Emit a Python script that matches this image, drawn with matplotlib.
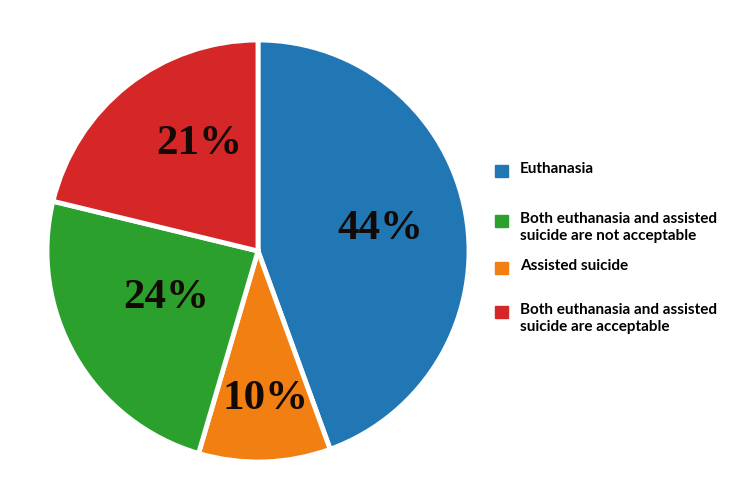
import matplotlib
matplotlib.use("Agg")
import matplotlib.pyplot as plt
import numpy as np
from matplotlib.patches import Rectangle

categories = ["Euthanasia", "Assisted suicide",
              "Both euthanasia and assisted\nsuicide are not acceptable",
              "Both euthanasia and assisted\nsuicide are acceptable"]
shares = [44, 10, 24, 21]
colors = ["#2077b4", "#f17f12", "#2ca02c", "#d62728"]

# legend order as in the picture
legend_order = [0, 2, 1, 3]

W, H = 750, 479
fig = plt.figure(figsize=(W / 100, H / 100), dpi=100)

# pie area: centre (258, 251), radius 211 px
cx, cy, r = 258, 251, 211
ax = fig.add_axes([(cx - r) / W, (H - cy - r) / H, 2 * r / W, 2 * r / H])
wedges, _ = ax.pie(shares, colors=colors, startangle=90, counterclock=False,
                   radius=1.0,
                   wedgeprops=dict(edgecolor="white", linewidth=3.5))
ax.set_xlim(-1.0, 1.0)
ax.set_ylim(-1.0, 1.0)
ax.set_aspect("equal")
ax.axis("off")

# percent labels, nudged like the original
lab_r = [0.59, 0.70, 0.49, 0.58]
lab_dt = [0.0, 0.9, -3.0, -9.5]
for w, v, lr, dt in zip(wedges, shares, lab_r, lab_dt):
    th = np.deg2rad((w.theta1 + w.theta2) / 2 + dt)
    ax.text(lr * np.cos(th), lr * np.sin(th), f"{v}%", ha="center", va="center",
            fontsize=31, fontweight="bold", family="Liberation Serif", color="#140a05")

# hand-placed legend (uneven spacing in the original)
sq_top = [165, 215, 262, 306]
for i, top in zip(legend_order, sq_top):
    fig.patches.append(Rectangle((495 / W, 1 - (top + 12) / H), 13 / W, 12 / H,
                                 transform=fig.transFigure, color=colors[i]))
    fig.text(520 / W, 1 - (top - 3) / H, categories[i], ha="left", va="top",
             fontsize=11, fontweight="bold", family="Lato", color="black",
             linespacing=1.25)

fig.savefig("out.png", dpi=100)
